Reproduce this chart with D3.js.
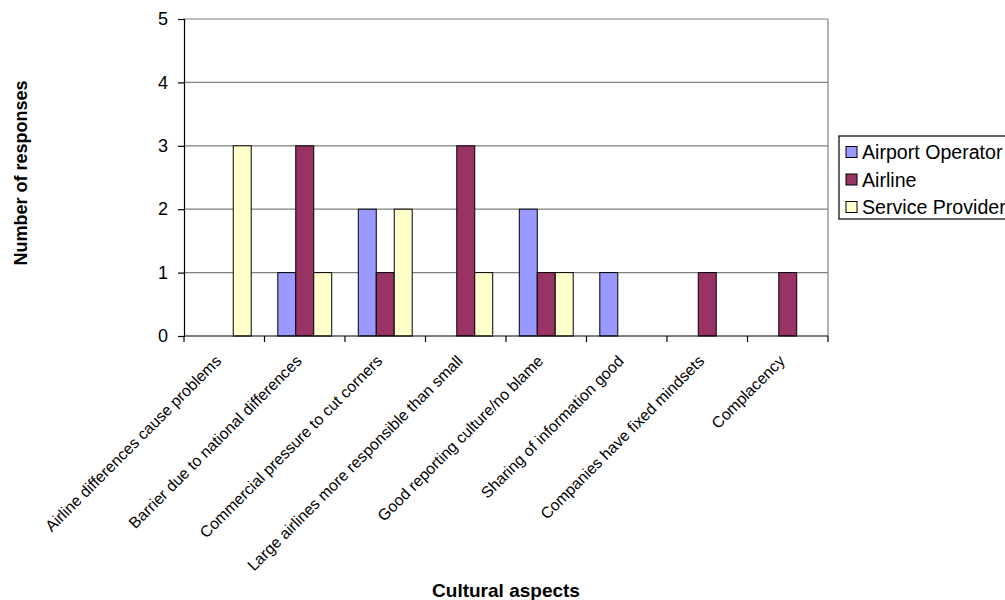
<!DOCTYPE html>
<html>
<head>
<meta charset="utf-8">
<script src="https://cdn.jsdelivr.net/npm/d3@7"></script>
<style>
  html, body { margin: 0; padding: 0; background: #fff; }
  svg { display: block; font-family: "Liberation Sans", Arial, sans-serif; }
</style>
</head>
<body>
<svg id="chart" width="1005" height="600"></svg>
<script>
// Categories along the x axis
const categories = [
  "Airline differences cause problems",
  "Barrier due to national differences",
  "Commercial pressure to cut corners",
  "Large airlines more responsible than small",
  "Good reporting culture/no blame",
  "Sharing of information good",
  "Companies have fixed mindsets",
  "Complacency"
];
const seriesNames = ["Airport Operator", "Airline", "Service Provider"];
const airportOperator = [0, 1, 2, 0, 2, 1, 0, 0];
const airline         = [0, 3, 1, 3, 1, 0, 1, 1];
const serviceProvider = [3, 1, 2, 1, 1, 0, 0, 0];
const yTicks = [0, 1, 2, 3, 4, 5];
const colors = ["#9999FF", "#993366", "#FFFFCC"];

const seriesValues = [airportOperator, airline, serviceProvider];

const svg = d3.select("#chart");
const m = { left: 184, right: 828, top: 19, bottom: 336 };

const x = d3.scaleBand().domain(categories).range([m.left, m.right]).padding(0);
const inner = d3.scaleBand().domain(seriesNames)
  .range([0, x.bandwidth()]).paddingInner(0).paddingOuter(0.74);
const y = d3.scaleLinear().domain([0, 5]).range([m.bottom, m.top]);

// Horizontal gridlines
svg.append("g").selectAll("line").data(yTicks.filter(d => d > 0)).join("line")
  .attr("x1", m.left).attr("x2", m.right)
  .attr("y1", d => y(d)).attr("y2", d => y(d))
  .attr("stroke", "#808080").attr("stroke-width", 1.2);

// Right border of the plot area
svg.append("line")
  .attr("x1", m.right).attr("x2", m.right).attr("y1", m.top).attr("y2", m.bottom)
  .attr("stroke", "#808080").attr("stroke-width", 1.2);

// Bars
const groups = svg.append("g").selectAll("g").data(categories).join("g")
  .attr("transform", d => `translate(${x(d)},0)`);
groups.selectAll("rect")
  .data((c, i) => seriesNames.map((s, k) => ({ s, k, v: seriesValues[k][i] })).filter(d => d.v > 0))
  .join("rect")
  .attr("x", d => inner(d.s))
  .attr("width", inner.bandwidth())
  .attr("y", d => y(d.v))
  .attr("height", d => y(0) - y(d.v))
  .attr("fill", d => colors[d.k])
  .attr("stroke", "#000").attr("stroke-width", 1);

// Y axis
const yAxis = d3.axisLeft(y).tickValues(yTicks).tickSize(6).tickPadding(10).tickFormat(d3.format("d"));
const gy = svg.append("g").attr("transform", `translate(${m.left},0)`).call(yAxis);
gy.select(".domain").attr("stroke", "#000").attr("stroke-width", 1.2);
gy.selectAll(".tick line").attr("stroke", "#000").attr("stroke-width", 1.2);
gy.selectAll(".tick text").attr("font-size", 18).attr("fill", "#000")
  .attr("font-family", "Liberation Sans, Arial, sans-serif");

// X axis: tick marks at category boundaries
const gx = svg.append("g").attr("transform", `translate(0,${m.bottom})`);
gx.append("line").attr("x1", m.left).attr("x2", m.right).attr("stroke", "#000").attr("stroke-width", 1.2);
const boundaries = categories.map(c => x(c)).concat([m.right]);
gx.selectAll("line.tk").data(boundaries).join("line").attr("class", "tk")
  .attr("x1", d => d).attr("x2", d => d).attr("y1", 0).attr("y2", 6)
  .attr("stroke", "#000").attr("stroke-width", 1.2);

// Rotated category labels
svg.append("g").selectAll("text").data(categories).join("text")
  .attr("transform", d => `translate(${x(d) + x.bandwidth() / 2 - 2},${m.bottom + 26}) rotate(-45)`)
  .attr("text-anchor", "end")
  .attr("font-size", 15.8)
  .attr("fill", "#000")
  .text(d => d);

// Axis titles
svg.append("text")
  .attr("transform", `translate(27,173) rotate(-90)`)
  .attr("text-anchor", "middle").attr("font-weight", "bold").attr("font-size", 18)
  .text("Number of responses");
svg.append("text")
  .attr("x", 506).attr("y", 597)
  .attr("text-anchor", "middle").attr("font-weight", "bold").attr("font-size", 19)
  .text("Cultural aspects");

// Legend
const lg = svg.append("g").attr("transform", "translate(839,136)");
lg.append("rect").attr("x", 0).attr("y", 0).attr("width", 200).attr("height", 83)
  .attr("fill", "#fff").attr("stroke", "#000").attr("stroke-width", 1.2);
const items = lg.selectAll("g").data(seriesNames).join("g")
  .attr("transform", (d, i) => `translate(7,${16 + i * 27.5})`);
items.append("rect").attr("x", 0).attr("y", -5.5).attr("width", 11).attr("height", 11)
  .attr("fill", (d, i) => colors[i]).attr("stroke", "#000").attr("stroke-width", 1);
items.append("text").attr("x", 16).attr("y", 7).attr("font-size", 19.6).attr("fill", "#000")
  .text(d => d);
</script>
</body>
</html>
